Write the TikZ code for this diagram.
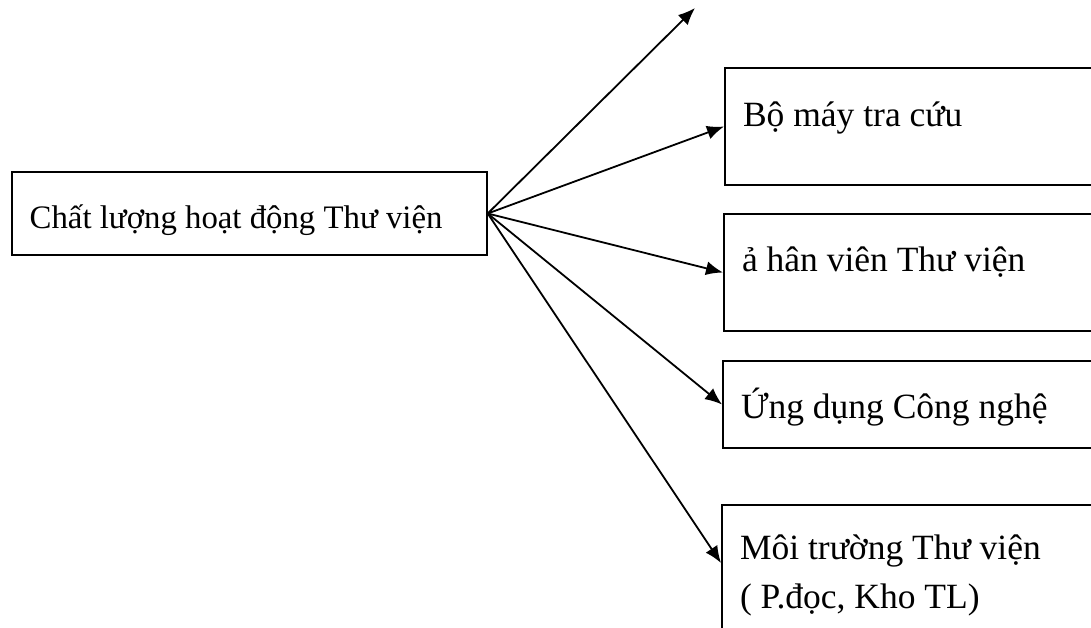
\documentclass[tikz,border=0pt]{standalone}
\usepackage{fontspec}
\setmainfont{Liberation Serif}
\usepackage{tikz}
\usetikzlibrary{arrows.meta,positioning}

\begin{document}
\begin{tikzpicture}[
    x=1pt, y=-1pt,
    box/.style={
        rectangle,
        draw,
        line width=2pt,
        text width=340pt,
        align=flush left,
        inner xsep=18pt,
        inner ysep=0pt,
        anchor=north west,
        font=\fontsize{35.5}{49}\selectfont
    },
    arrow/.style={-{Latex[length=17pt,width=14pt]}, line width=1.8pt}
]
\useasboundingbox (0,0) rectangle (1091,627);
\clip (0,0) rectangle (1091,627);

% Main node
\node[box, text width=439pt, text height=56pt, text depth=27pt,
      font=\fontsize{32.8}{49}\selectfont] (quality) at (10.7,171)
    {Chất lượng hoạt động Thư viện};

% Factors
\node[box, text height=58pt, text depth=59pt] (lookup) at (724,67) {Bộ máy tra cứu};
\node[box, text height=57pt, text depth=60pt] (staff) at (723,213) {ả hân viên Thư viện};
\node[box, text height=57pt, text depth=30pt] (tech) at (722,360) {Ứng dụng Công nghệ};
\node[box, text height=54pt, text depth=140pt] (env) at (721,504)
    {Môi trường Thư viện\\( P.đọc, Kho TL)};

\coordinate (topend) at (695,8);

% Arrows
\draw[arrow] (quality.east) -- (topend);
\draw[arrow] (quality.east) -- (lookup.west);
\draw[arrow] (quality.east) -- (staff.west);
\draw[arrow] (quality.east) -- (tech.west);
\draw[arrow] (quality.east) -- ([yshift=-59pt]env.north west);

\end{tikzpicture}
\end{document}
